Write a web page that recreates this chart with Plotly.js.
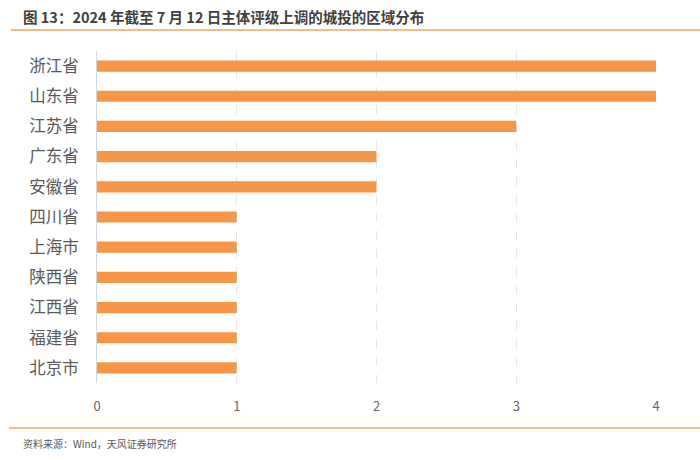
<!DOCTYPE html>
<html>
<head>
<meta charset="utf-8">
<script src="https://cdn.plot.ly/plotly-3.0.1.min.js"></script>
<style>
  body { margin: 0; background: #fff; }
  #chart { width: 700px; height: 460px; }
</style>
</head>
<body>
<div id="chart"></div>
<script>
const regions = ['浙江省', '山东省', '江苏省', '广东省', '安徽省', '四川省', '上海市', '陕西省', '江西省', '福建省', '北京市'];
const counts = [4, 4, 3, 2, 2, 1, 1, 1, 1, 1, 1];
const xTicks = [0, 1, 2, 3, 4];

const cjk = '"Noto Sans CJK SC", "Microsoft YaHei", sans-serif';

const trace = {
    type: 'bar',
    orientation: 'h',
    y: regions,
    x: counts,
    marker: { color: '#F79646' },
    width: 0.37,
    hoverinfo: 'x+y'
};

const layout = {
    width: 700,
    height: 460,
    margin: { l: 97, r: 44, t: 51, b: 77 },
    paper_bgcolor: '#ffffff',
    plot_bgcolor: '#ffffff',
    showlegend: false,
    xaxis: {
        range: [0, 4],
        tickvals: xTicks,
        showgrid: true,
        gridcolor: '#e6e6e6',
        griddash: 'dash',
        gridwidth: 1,
        zeroline: false,
        showline: false,
        ticks: '',
        ticklabelstandoff: 14,
        tickfont: { family: cjk, size: 13, color: '#666666' }
    },
    yaxis: {
        autorange: 'reversed',
        showgrid: false,
        zeroline: false,
        showline: true,
        linecolor: '#d0d8e4',
        linewidth: 1,
        ticks: '',
        ticklabelstandoff: 14,
        tickfont: { family: cjk, size: 16.5, color: '#595959' }
    },
    shapes: [
        { type: 'line', xref: 'paper', yref: 'paper', x0: -86/559, x1: 1 + 44/559, y0: 1 + 21/332, y1: 1 + 21/332,
          line: { color: '#F4A460', width: 1.5 } },
        { type: 'line', xref: 'paper', yref: 'paper', x0: -88/559, x1: 1 + 44/559, y0: -45/332, y1: -45/332,
          line: { color: '#F4A460', width: 1.5 } }
    ],
    annotations: [
        { xref: 'paper', yref: 'paper', x: -76/559, y: 1 + 35/332, xanchor: 'left', yanchor: 'middle',
          text: '<b>图 13：2024 年截至 7 月 12 日主体评级上调的城投的区域分布</b>', showarrow: false,
          font: { family: cjk, size: 14.5, color: '#404040' } },
        { xref: 'paper', yref: 'paper', x: -76/559, y: -60/332, xanchor: 'left', yanchor: 'middle',
          text: '资料来源：Wind，天风证券研究所', showarrow: false,
          font: { family: cjk, size: 10, color: '#595959' } }
    ]
};

Plotly.newPlot('chart', [trace], layout, { displayModeBar: false, staticPlot: true });
</script>
</body>
</html>
